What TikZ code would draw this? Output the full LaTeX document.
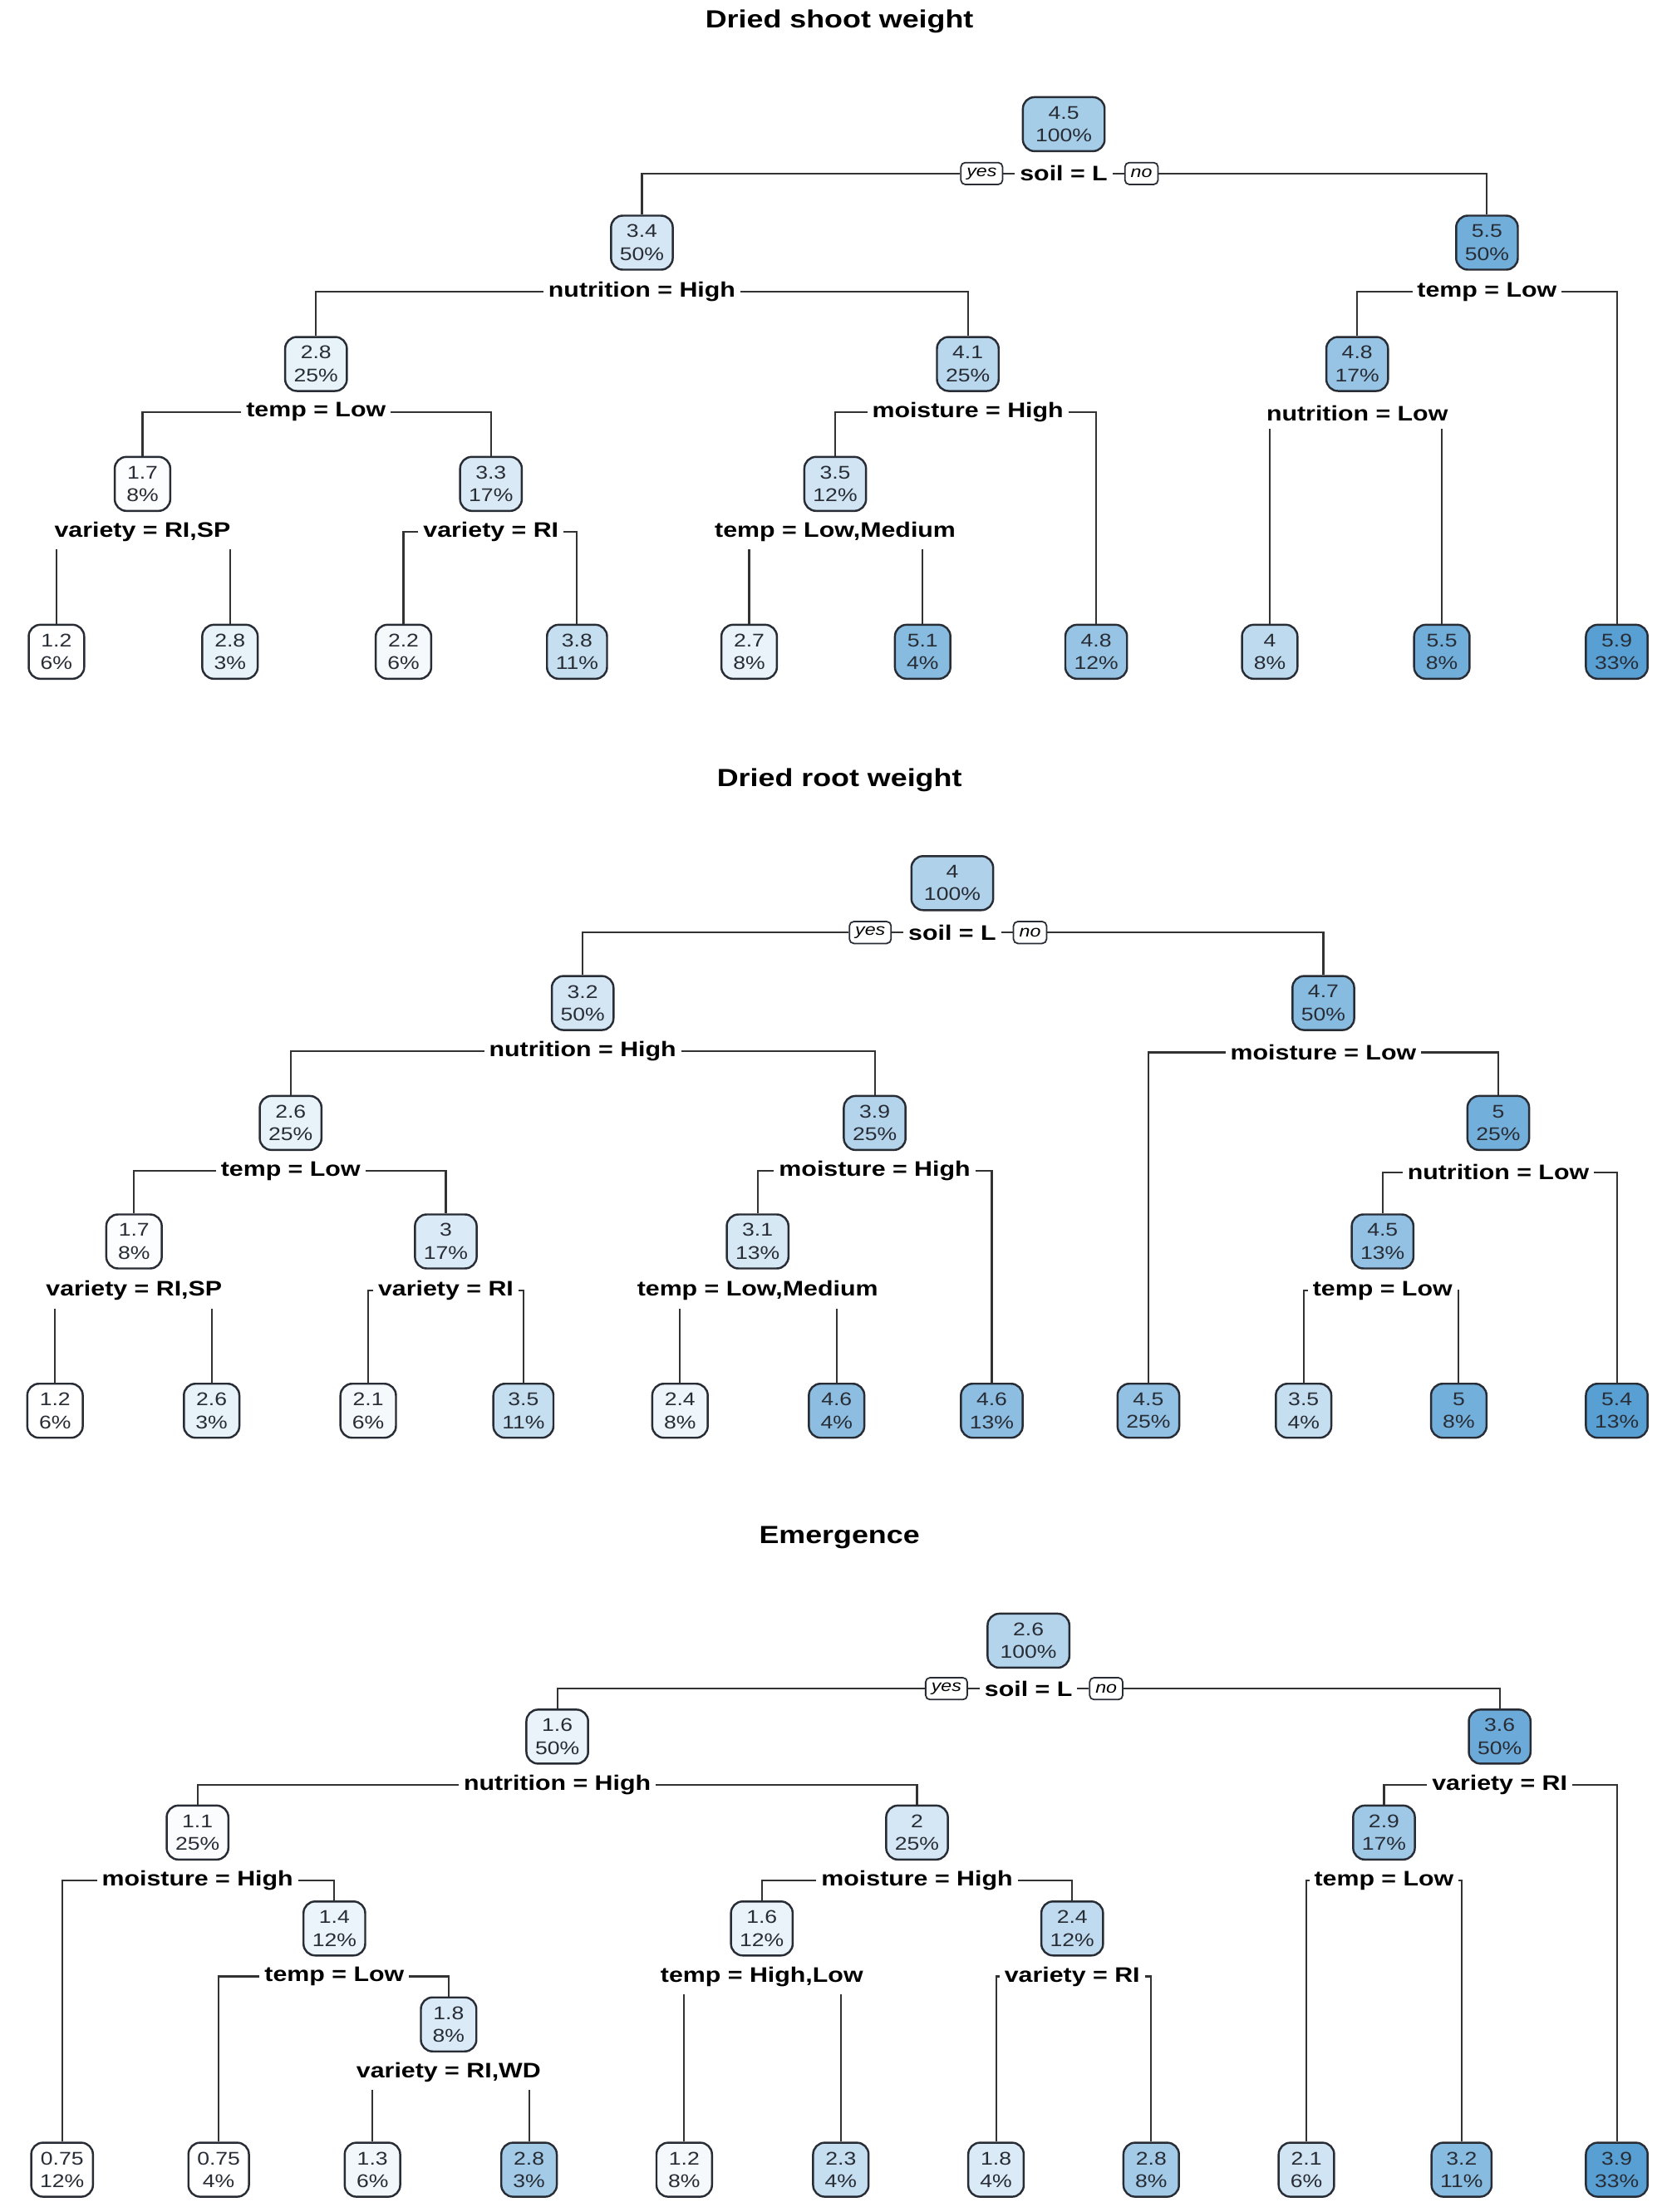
\documentclass[tikz,border=0pt]{standalone}
\usepackage{fontspec}
\newfontfamily\treefont[FakeStretch=1.2]{Liberation Sans}
\usetikzlibrary{positioning}
\definecolor{deep}{RGB}{88,160,212}
\definecolor{ink}{RGB}{40,44,52}
\definecolor{wire}{RGB}{50,50,50}

\begin{document}
\begin{tikzpicture}[x=0.016978cm, y=-0.016978cm, font=\treefont]
\tikzset{vbox/.style={draw=ink, line width=0.7pt, rounded corners=4pt, fill=deep!#1, text=ink, align=center, minimum width=19pt, minimum height=18.5pt, inner xsep=3pt, inner ysep=1pt, font=\treefont\fontsize{6.3}{7.8}\selectfont}}
\tikzset{cond/.style={font=\treefont\bfseries\fontsize{7.2}{8}\selectfont, inner xsep=1.5pt, inner ysep=2.5pt}}
\tikzset{yn/.style={draw=ink, line width=0.5pt, rounded corners=1.5pt, font=\treefont\itshape\fontsize{5.5}{6}\selectfont, inner xsep=2pt, inner ysep=1pt, minimum height=7.5pt}}
\tikzset{heading/.style={font=\treefont\bfseries\fontsize{8.5}{10}\selectfont}}
\tikzset{wire/.style={draw=wire, line width=0.6pt}}

\fill[white] (0,0) rectangle (1178,1568);
\useasboundingbox (0,0) rectangle (1178,1568);

% Dried shoot weight
\node[heading] (ta) at (595,15) {Dried shoot weight};
\node[vbox=53, minimum width=28pt] (a1) at (754,88) {4.5\\100\%};
\node[cond] (sa1) at (754,123) {soil = L};
\node[yn, left=4pt of sa1] (ya) {yes};
\node[yn, right=4pt of sa1] (na) {no};
\node[vbox=25] (a2) at (455,172) {3.4\\50\%};
\node[vbox=85] (a3) at (1054,172) {5.5\\50\%};
\node[cond] (sa2) at (455,207) {nutrition = High};
\node[cond] (sa3) at (1054,207) {temp = Low};
\node[vbox=14] (a4) at (224,258) {2.8\\25\%};
\node[vbox=42] (a5) at (686,258) {4.1\\25\%};
\node[vbox=62] (a6) at (962,258) {4.8\\17\%};
\node[cond] (sa4) at (224,292) {temp = Low};
\node[cond] (sa5) at (686,292) {moisture = High};
\node[cond] (sa6) at (962,293) {nutrition = Low};
\node[vbox=2] (a8) at (101,343) {1.7\\8\%};
\node[vbox=23] (a9) at (348,343) {3.3\\17\%};
\node[vbox=28] (a10) at (592,343) {3.5\\12\%};
\node[cond] (sa8) at (101,377) {variety = RI,SP};
\node[cond] (sa9) at (348,377) {variety = RI};
\node[cond] (sa10) at (592,377) {temp = Low,Medium};
\node[vbox=0] (a16) at (40,462) {1.2\\6\%};
\node[vbox=14] (a17) at (163,462) {2.8\\3\%};
\node[vbox=6] (a18) at (286,462) {2.2\\6\%};
\node[vbox=34] (a19) at (409,462) {3.8\\11\%};
\node[vbox=13] (a20) at (531,462) {2.7\\8\%};
\node[vbox=72] (a21) at (654,462) {5.1\\4\%};
\node[vbox=62] (a11) at (777,462) {4.8\\12\%};
\node[vbox=39] (a12) at (900,462) {4\\8\%};
\node[vbox=85] (a13) at (1022,462) {5.5\\8\%};
\node[vbox=100] (a7) at (1146,462) {5.9\\33\%};

\draw[wire] (ya.east) -- (sa1.west) (sa1.east) -- (na.west);
\draw[wire] (ya.west) -| (a2.north) (na.east) -| (a3.north);
\draw[wire] (sa2.west) -| (a4.north) (sa2.east) -| (a5.north);
\draw[wire] (sa3.west) -| (a6.north) (sa3.east) -| (a7.north);
\draw[wire] (sa4.west) -| (a8.north) (sa4.east) -| (a9.north);
\draw[wire] (sa5.west) -| (a10.north) (sa5.east) -| (a11.north);
\draw[wire] (sa6.south -| a12.north) -- (a12.north) (sa6.south -| a13.north) -- (a13.north);
\draw[wire] (sa8.south -| a16.north) -- (a16.north) (sa8.south -| a17.north) -- (a17.north);
\draw[wire] (sa9.west) -| (a18.north) (sa9.east) -| (a19.north);
\draw[wire] (sa10.south -| a20.north) -- (a20.north) (sa10.south -| a21.north) -- (a21.north);

% Dried root weight
\node[heading] (tb) at (595,553) {Dried root weight};
\node[vbox=48, minimum width=28pt] (b1) at (675,626) {4\\100\%};
\node[cond] (sb1) at (675,661) {soil = L};
\node[yn, left=4pt of sb1] (yb) {yes};
\node[yn, right=4pt of sb1] (nb) {no};
\node[vbox=26] (b2) at (413,711) {3.2\\50\%};
\node[vbox=72] (b3) at (938,711) {4.7\\50\%};
\node[cond] (sb2) at (413,745) {nutrition = High};
\node[cond] (sb3) at (938,746) {moisture = Low};
\node[vbox=14] (b4) at (206,796) {2.6\\25\%};
\node[vbox=45] (b5) at (620,796) {3.9\\25\%};
\node[vbox=84] (b7) at (1062,796) {5\\25\%};
\node[cond] (sb4) at (206,830) {temp = Low};
\node[cond] (sb5) at (620,830) {moisture = High};
\node[cond] (sb7) at (1062,831) {nutrition = Low};
\node[vbox=2] (b8) at (95,880) {1.7\\8\%};
\node[vbox=22] (b9) at (316,880) {3\\17\%};
\node[vbox=24] (b10) at (537,880) {3.1\\13\%};
\node[vbox=65] (b14) at (980,880) {4.5\\13\%};
\node[cond] (sb8) at (95,915) {variety = RI,SP};
\node[cond] (sb9) at (316,915) {variety = RI};
\node[cond] (sb10) at (537,915) {temp = Low,Medium};
\node[cond] (sb14) at (980,915) {temp = Low};
\node[vbox=0] (b16) at (39,1000) {1.2\\6\%};
\node[vbox=14] (b17) at (150,1000) {2.6\\3\%};
\node[vbox=6] (b18) at (261,1000) {2.1\\6\%};
\node[vbox=34] (b19) at (371,1000) {3.5\\11\%};
\node[vbox=10] (b20) at (482,1000) {2.4\\8\%};
\node[vbox=68] (b21) at (593,1000) {4.6\\4\%};
\node[vbox=68] (b11) at (703,1000) {4.6\\13\%};
\node[vbox=65] (b6) at (814,1000) {4.5\\25\%};
\node[vbox=34] (b28) at (924,1000) {3.5\\4\%};
\node[vbox=84] (b29) at (1034,1000) {5\\8\%};
\node[vbox=100] (b15) at (1146,1000) {5.4\\13\%};

\draw[wire] (yb.east) -- (sb1.west) (sb1.east) -- (nb.west);
\draw[wire] (yb.west) -| (b2.north) (nb.east) -| (b3.north);
\draw[wire] (sb2.west) -| (b4.north) (sb2.east) -| (b5.north);
\draw[wire] (sb3.west) -| (b6.north) (sb3.east) -| (b7.north);
\draw[wire] (sb4.west) -| (b8.north) (sb4.east) -| (b9.north);
\draw[wire] (sb5.west) -| (b10.north) (sb5.east) -| (b11.north);
\draw[wire] (sb7.west) -| (b14.north) (sb7.east) -| (b15.north);
\draw[wire] (sb8.south -| b16.north) -- (b16.north) (sb8.south -| b17.north) -- (b17.north);
\draw[wire] (sb9.west) -| (b18.north) (sb9.east) -| (b19.north);
\draw[wire] (sb10.south -| b20.north) -- (b20.north) (sb10.south -| b21.north) -- (b21.north);
\draw[wire] (sb14.west) -| (b28.north) (sb14.east) -| (b29.north);

% Emergence
\node[heading] (tc) at (595,1090) {Emergence};
\node[vbox=45, minimum width=28pt] (c1) at (729,1163) {2.6\\100\%};
\node[cond] (sc1) at (729,1197) {soil = L};
\node[yn, left=4pt of sc1] (yc) {yes};
\node[yn, right=4pt of sc1] (nc) {no};
\node[vbox=13] (c2) at (395,1231) {1.6\\50\%};
\node[vbox=88] (c3) at (1063,1231) {3.6\\50\%};
\node[cond] (sc2) at (395,1265) {nutrition = High};
\node[cond] (sc3) at (1063,1265) {variety = RI};
\node[vbox=3] (c4) at (140,1299) {1.1\\25\%};
\node[vbox=25] (c5) at (650,1299) {2\\25\%};
\node[vbox=58] (c6) at (981,1299) {2.9\\17\%};
\node[cond] (sc4) at (140,1333) {moisture = High};
\node[cond] (sc5) at (650,1333) {moisture = High};
\node[cond] (sc6) at (981,1333) {temp = Low};
\node[vbox=12] (c9) at (237,1367) {1.4\\12\%};
\node[vbox=13] (c10) at (540,1367) {1.6\\12\%};
\node[vbox=38] (c11) at (760,1367) {2.4\\12\%};
\node[cond] (sc9) at (237,1401) {temp = Low};
\node[cond] (sc10) at (540,1401) {temp = High,Low};
\node[cond] (sc11) at (760,1401) {variety = RI};
\node[vbox=22] (c19) at (318,1435) {1.8\\8\%};
\node[cond] (sc19) at (318,1469) {variety = RI,WD};
\node[vbox=0] (c8) at (44,1538) {0.75\\12\%};
\node[vbox=0] (c18) at (155,1538) {0.75\\4\%};
\node[vbox=8] (c38) at (264,1538) {1.3\\6\%};
\node[vbox=55] (c39) at (375,1538) {2.8\\3\%};
\node[vbox=6] (c20) at (485,1538) {1.2\\8\%};
\node[vbox=35] (c21) at (596,1538) {2.3\\4\%};
\node[vbox=22] (c22) at (706,1538) {1.8\\4\%};
\node[vbox=55] (c23) at (816,1538) {2.8\\8\%};
\node[vbox=28] (c12) at (926,1538) {2.1\\6\%};
\node[vbox=72] (c13) at (1036,1538) {3.2\\11\%};
\node[vbox=100] (c7) at (1146,1538) {3.9\\33\%};

\draw[wire] (yc.east) -- (sc1.west) (sc1.east) -- (nc.west);
\draw[wire] (yc.west) -| (c2.north) (nc.east) -| (c3.north);
\draw[wire] (sc2.west) -| (c4.north) (sc2.east) -| (c5.north);
\draw[wire] (sc3.west) -| (c6.north) (sc3.east) -| (c7.north);
\draw[wire] (sc4.west) -| (c8.north) (sc4.east) -| (c9.north);
\draw[wire] (sc5.west) -| (c10.north) (sc5.east) -| (c11.north);
\draw[wire] (sc6.west) -| (c12.north) (sc6.east) -| (c13.north);
\draw[wire] (sc9.west) -| (c18.north) (sc9.east) -| (c19.north);
\draw[wire] (sc10.south -| c20.north) -- (c20.north) (sc10.south -| c21.north) -- (c21.north);
\draw[wire] (sc11.west) -| (c22.north) (sc11.east) -| (c23.north);
\draw[wire] (sc19.south -| c38.north) -- (c38.north) (sc19.south -| c39.north) -- (c39.north);
\end{tikzpicture}
\end{document}
